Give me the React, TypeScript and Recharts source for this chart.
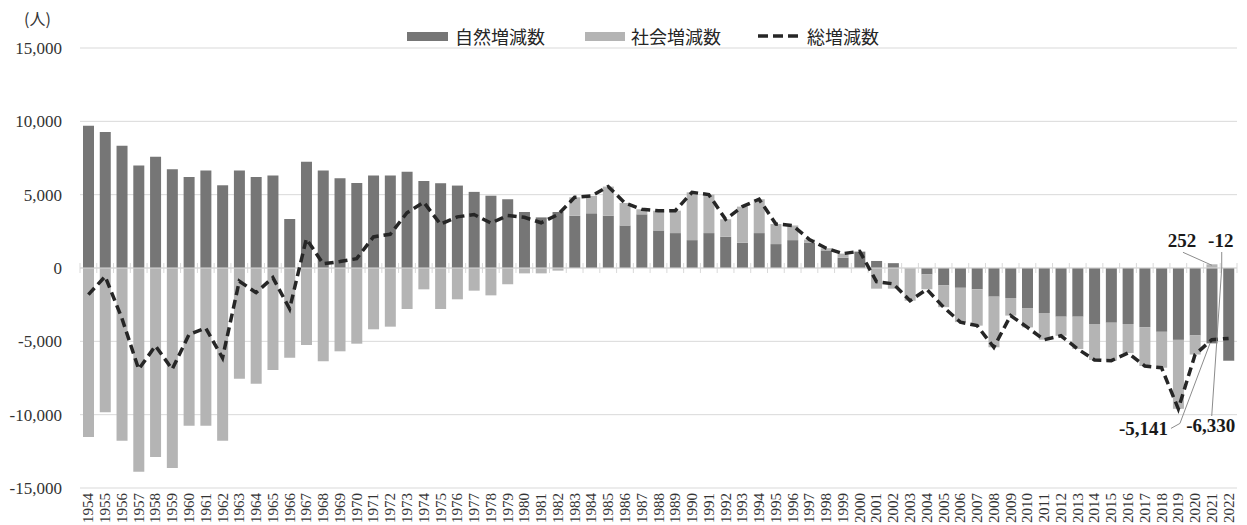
import React from "react";
import {
  Bar,
  CartesianGrid,
  ComposedChart,
  LabelList,
  Line,
  ReferenceLine,
  XAxis,
  YAxis,
} from "recharts";

const years = [
  "1954", "1955", "1956", "1957", "1958", "1959", "1960", "1961", "1962", "1963",
  "1964", "1965", "1966", "1967", "1968", "1969", "1970", "1971", "1972", "1973",
  "1974", "1975", "1976", "1977", "1978", "1979", "1980", "1981", "1982", "1983",
  "1984", "1985", "1986", "1987", "1988", "1989", "1990", "1991", "1992", "1993",
  "1994", "1995", "1996", "1997", "1998", "1999", "2000", "2001", "2002", "2003",
  "2004", "2005", "2006", "2007", "2008", "2009", "2010", "2011", "2012", "2013",
  "2014", "2015", "2016", "2017", "2018", "2019", "2020", "2021", "2022",
];

// 自然増減数
const natural = [
  9700, 9270, 8340, 6990, 7580, 6740, 6210, 6650, 5640, 6650,
  6210, 6300, 3340, 7240, 6650, 6120, 5800, 6300, 6300, 6560,
  5940, 5780, 5620, 5190, 4930, 4690, 3820, 3450, 3820, 3560,
  3730, 3560, 2900, 3660, 2560, 2380, 1900, 2380, 2130, 1720,
  2380, 1630, 1900, 1710, 1200, 700, 1100, 480, 330, -30,
  -440, -1190, -1350, -1450, -1955, -2045, -2730, -3070, -3320, -3320,
  -3820, -3730, -3820, -4030, -4350, -4900, -4600, -5141, -6330,
];

// 社会増減数
const social = [
  -11520, -9840, -11770, -13890, -12890, -13640, -10750, -10750, -11770, -7545,
  -7890, -6955, -6115, -5250, -6365, -5680, -5160, -4180, -4000, -2795,
  -1455, -2795, -2135, -1545, -1865, -1115, -365, -365, -180, 1260,
  1185, 1990, 1530, 345, 1345, 1530, 3260, 2625, 1190, 2465,
  2310, 1370, 1000, 230, 150, 280, 40, -1410, -1410, -2200,
  -1010, -1480, -2340, -2480, -3450, -1200, -1320, -1820, -1300, -2200,
  -2450, -2590, -1980, -2650, -2450, -4700, -1300, 252, -12,
];

// 総増減数
const total = [
  -1820, -570, -3430, -6900, -5310, -6900, -4540, -4100, -6130, -900,
  -1680, -655, -2780, 1990, 285, 440, 640, 2120, 2300, 3765,
  4485, 2985, 3485, 3645, 3065, 3575, 3455, 3085, 3640, 4820,
  4915, 5550, 4430, 4005, 3905, 3910, 5160, 5005, 3320, 4185,
  4690, 3000, 2900, 1940, 1350, 980, 1140, -930, -1080, -2230,
  -1450, -2670, -3690, -3930, -5405, -3245, -4050, -4890, -4620, -5520,
  -6270, -6320, -5800, -6680, -6800, -9600, -5900, -4889, -4800,
];

const yTicks = [-15000, -10000, -5000, 0, 5000, 10000, 15000];

const data = years.map((year, i) => ({
  year,
  natural: natural[i],
  social: social[i],
  total: total[i],
}));

const DARK = "#767676";
const LIGHT = "#b4b4b4";
const LINE = "#262626";
const LEADER = "#8c8c8c";
const serif = "'Liberation Serif', 'Times New Roman', serif";
const gothic = "'Noto Sans CJK JP', 'Noto Sans', sans-serif";

const bounds = (p: any) => {
  const vb = p.viewBox ?? p;
  const x = Number(vb.x);
  const y = Number(vb.y);
  const w = Number(vb.width);
  const h = Number(vb.height);
  return { cx: x + w / 2, top: Math.min(y, y + h), bottom: Math.max(y, y + h) };
};

const noteStyle = {
  fontFamily: serif,
  fontSize: 19,
  fontWeight: 700,
  fill: "#1a1a1a",
};

const naturalNote = (props: any) => {
  const { cx, top, bottom } = bounds(props);
  if (props.index === 67) {
    return (
      <g>
        <polyline
          points={`${cx - 41},${bottom + 85} ${cx - 32},${bottom + 80} ${cx - 2},${bottom}`}
          fill="none"
          stroke={LEADER}
          strokeWidth={1}
        />
        <text x={cx - 44} y={bottom + 92} textAnchor="end" {...noteStyle}>
          -5,141
        </text>
      </g>
    );
  }
  if (props.index === 68) {
    return (
      <g>
        <polyline
          points={`${cx - 17},${top + 148} ${cx - 7},${top} ${cx - 7},${top - 16}`}
          fill="none"
          stroke={LEADER}
          strokeWidth={1}
        />
        <text x={cx - 18} y={top + 164} textAnchor="middle" {...noteStyle}>
          -6,330
        </text>
        <text x={cx - 8} y={top - 21} textAnchor="middle" {...noteStyle}>
          -12
        </text>
      </g>
    );
  }
  return null;
};

const socialNote = (props: any) => {
  if (props.index !== 67) return null;
  const { cx, top } = bounds(props);
  return (
    <g>
      <line x1={cx - 29} y1={top - 12} x2={cx} y2={top + 1} stroke={LEADER} strokeWidth={1} />
      <text x={cx - 30} y={top - 17} textAnchor="middle" {...noteStyle}>
        252
      </text>
    </g>
  );
};

// zero line with small ticks between the categories
const ZeroAxis = (props: any) => {
  const { x1, y1, x2 } = props;
  const step = (x2 - x1) / years.length;
  return (
    <g>
      <line x1={x1} y1={y1} x2={x2} y2={y1} stroke="#d9d9d9" strokeWidth={1} />
      {[...years, ""].map((_, i) => (
        <line
          key={i}
          x1={x1 + step * i}
          y1={y1 - 5}
          x2={x1 + step * i}
          y2={y1 + 5}
          stroke="#d9d9d9"
          strokeWidth={1}
        />
      ))}
    </g>
  );
};

const YearTick = (props: any) => {
  const { x, y, payload } = props;
  return (
    <text
      x={x}
      y={y}
      transform={`rotate(-90 ${x} ${y})`}
      textAnchor="end"
      dominantBaseline="central"
      fontSize={15}
      fontFamily={serif}
      fill="#333"
    >
      {payload.value}
    </text>
  );
};

const legendText = {
  position: "absolute" as const,
  top: 25,
  fontFamily: gothic,
  fontSize: 18,
  lineHeight: "22px",
  color: "#262626",
  whiteSpace: "nowrap" as const,
};

export default function App() {
  return (
    <div style={{ position: "absolute", left: 0, top: 0, width: 1247, height: 525, background: "#fff" }}>
      <div style={{ position: "absolute", left: 24, top: 6, fontFamily: gothic, fontSize: 16, color: "#333" }}>
        (人)
      </div>
      <div style={{ position: "absolute", left: 407, top: 32, width: 41, height: 9, background: DARK }} />
      <div style={{ ...legendText, left: 455 }}>自然増減数</div>
      <div style={{ position: "absolute", left: 585, top: 32, width: 40, height: 9, background: LIGHT }} />
      <div style={{ ...legendText, left: 631 }}>社会増減数</div>
      <svg style={{ position: "absolute", left: 758, top: 31 }} width={42} height={10}>
        <line x1={0} y1={5} x2={42} y2={5} stroke={LINE} strokeWidth={3.5} strokeDasharray="10 5" />
      </svg>
      <div style={{ ...legendText, left: 807 }}>総増減数</div>

      <ComposedChart
        width={1247}
        height={525}
        data={data}
        stackOffset="sign"
        margin={{ top: 48, right: 10, bottom: 0, left: 10 }}
        barSize={11}
      >
        <CartesianGrid vertical={false} stroke="#d9d9d9" />
        <XAxis
          dataKey="year"
          interval={0}
          axisLine={false}
          tickLine={false}
          tickSize={0}
          tickMargin={5}
          height={37}
          tick={<YearTick />}
        />
        <YAxis
          domain={[-15000, 15000]}
          ticks={yTicks}
          interval={0}
          axisLine={false}
          tickLine={false}
          tickSize={0}
          tickMargin={18}
          width={70}
          tickFormatter={(v: number) => v.toLocaleString("en-US")}
          tick={{ fontSize: 17, fill: "#333", fontFamily: serif }}
        />
        <ReferenceLine y={0} shape={<ZeroAxis />} />
        <Bar dataKey="natural" stackId="a" fill={DARK} isAnimationActive={false}>
          <LabelList dataKey="natural" content={naturalNote} />
        </Bar>
        <Bar dataKey="social" stackId="a" fill={LIGHT} isAnimationActive={false}>
          <LabelList dataKey="social" content={socialNote} />
        </Bar>
        <Line
          type="linear"
          dataKey="total"
          stroke={LINE}
          strokeWidth={3.5}
          strokeDasharray="9 5"
          dot={false}
          activeDot={false}
          isAnimationActive={false}
        />
      </ComposedChart>
    </div>
  );
}
